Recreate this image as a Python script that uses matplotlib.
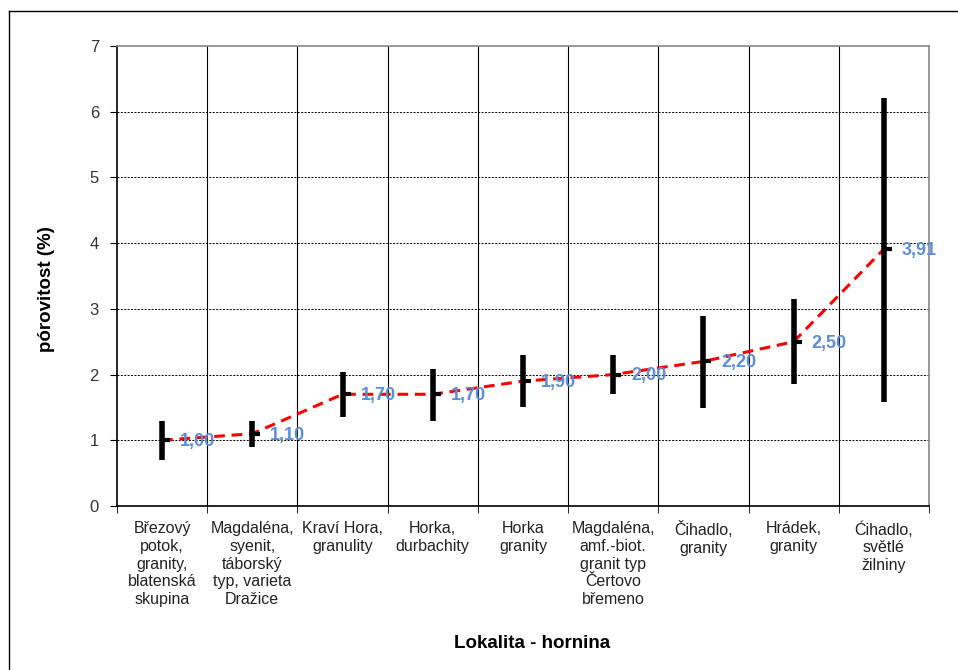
import matplotlib.pyplot as plt
import numpy as np
from matplotlib.lines import Line2D

plt.rcParams['font.family'] = ['Liberation Sans', 'DejaVu Sans']

categories = ["Březový\npotok,\ngranity,\nblatenská\nskupina",
              "Magdaléna,\nsyenit,\ntáborský\ntyp, varieta\nDražice",
              "Kraví Hora,\ngranulity",
              "Horka,\ndurbachity",
              "Horka\ngranity",
              "Magdaléna,\namf.-biot.\ngranit typ\nČertovo\nbřemeno",
              "Čihadlo,\ngranity",
              "Hrádek,\ngranity",
              "Ćihadlo,\nsvětlé\nžilniny"]
low = [0.70, 0.90, 1.35, 1.30, 1.50, 1.70, 1.49, 1.86, 1.58]
high = [1.29, 1.29, 2.04, 2.08, 2.30, 2.30, 2.89, 3.15, 6.21]
mean = [1.00, 1.10, 1.70, 1.70, 1.90, 2.00, 2.20, 2.50, 3.91]
mean_labels = ["1,00", "1,10", "1,70", "1,70", "1,90", "2,00", "2,20", "2,50", "3,91"]

fig = plt.figure(figsize=(9.58, 6.7), dpi=100)
ax = fig.add_axes([0.1221, 0.2448, 0.8476, 0.6865])

x = np.arange(len(categories))

# outer frame (only left and top visible)
fig.add_artist(Line2D([9/958, 9/958], [0, 1 - 11/670], color='black', lw=1))
fig.add_artist(Line2D([9/958, 1], [1 - 11/670, 1 - 11/670], color='black', lw=1))

# grid
for yv in range(1, 7):
    ax.axhline(yv, color='black', lw=0.7, ls=(0, (2, 1.5)), zorder=1)
for xv in np.arange(0.5, len(categories) - 0.5, 1):
    ax.axvline(xv, color='black', lw=0.8, zorder=1)

ax.plot(x, mean, color='red', lw=2.2, ls=(0, (3.5, 2.2)), zorder=2)
ax.vlines(x, low, high, color='black', lw=4, zorder=3)
ax.plot(x, mean, ls='none', marker=1, markersize=6, markeredgewidth=3,
        color='black', zorder=4)

for xi, yi, lab in zip(x, mean, mean_labels):
    ax.annotate(lab, (xi, yi), xytext=(13, -1), textcoords='offset points',
                ha='left', va='center', color='#5B8DD9', fontsize=13,
                fontweight='bold', zorder=5)

ax.set_xlim(-0.5, len(categories) - 0.5)
ax.set_ylim(0, 7)
ax.set_yticks(range(0, 8))
ax.set_xticks(x)
ax.set_xticklabels(categories, fontsize=11.5, color='#222222', linespacing=1.22)
ax.set_xticks(np.arange(-0.5, len(categories), 1), minor=True)
ax.tick_params(axis='x', which='major', length=0, pad=11)
ax.tick_params(axis='x', which='minor', length=5, direction='out')
ax.tick_params(axis='y', length=5, direction='out', labelsize=12, labelcolor='#333333', pad=8)

for s in ['top', 'right']:
    ax.spines[s].set_color('#888888')
    ax.spines[s].set_linewidth(1.2)
ax.spines['left'].set_linewidth(1.2)
ax.spines['bottom'].set_linewidth(1.2)

ax.set_ylabel('pórovitost (%)', fontsize=13.5, fontweight='bold')
ax.yaxis.set_label_coords(-0.076, 0.472)
ax.set_xlabel('Lokalita - hornina', fontsize=13.5, fontweight='bold')
ax.xaxis.set_label_coords(0.511, -0.280)

fig.savefig('out.png', dpi=100)
